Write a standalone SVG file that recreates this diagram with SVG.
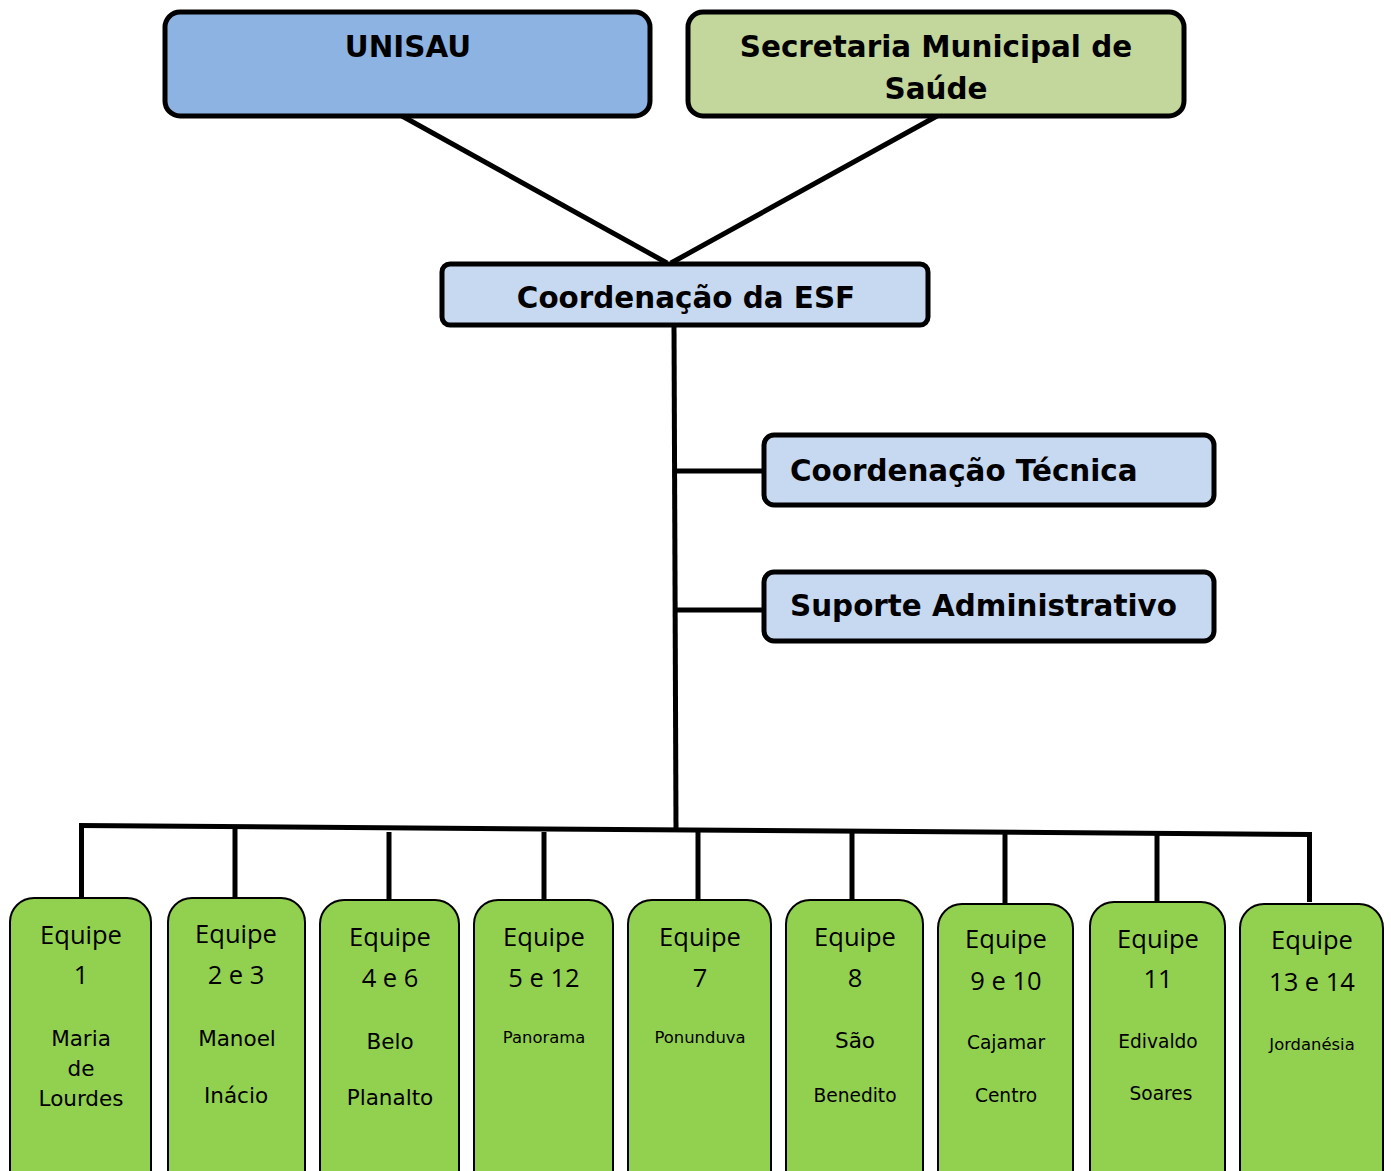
<svg xmlns="http://www.w3.org/2000/svg" width="1391" height="1171" viewBox="0 0 1391 1171">
<style>
.top{stroke:#000;stroke-width:5;}
.team{fill:#92D050;stroke:#000;stroke-width:2;}
.b{font-family:"DejaVu Sans","Verdana",sans-serif;font-weight:bold;font-size:29.4px;fill:#000;}
.eq{font-family:"Open Sans","Liberation Sans",sans-serif;font-size:25.5px;fill:#000;text-anchor:middle;}
.nm{font-family:"DejaVu Sans","Verdana",sans-serif;fill:#000;text-anchor:middle;}
.n21{font-size:21.5px;}
.n18{font-size:18.6px;}
.n16{font-size:16.4px;}
.conn{stroke:#000;stroke-width:5;fill:none;stroke-linecap:butt;}
</style>
<rect width="1391" height="1171" fill="#fff"/>
<g id="connectors">
<line class="conn" x1="402" y1="116" x2="667" y2="263"/>
<line class="conn" x1="937" y1="116" x2="671" y2="263"/>
<line class="conn" x1="674" y1="325" x2="676" y2="829"/>
<line class="conn" x1="675" y1="471" x2="764" y2="471"/>
<line class="conn" x1="675" y1="610" x2="764" y2="610"/>
<line class="conn" x1="79" y1="825.5" x2="1312" y2="834.5"/>
<line class="conn" x1="81.5" y1="824" x2="81.5" y2="898"/>
<line class="conn" x1="235" y1="826" x2="235" y2="898"/>
<line class="conn" x1="389" y1="832" x2="389" y2="900"/>
<line class="conn" x1="544" y1="832" x2="544" y2="900"/>
<line class="conn" x1="698" y1="830" x2="698" y2="899"/>
<line class="conn" x1="852" y1="832" x2="852" y2="899"/>
<line class="conn" x1="1005" y1="833" x2="1005" y2="903"/>
<line class="conn" x1="1157" y1="834" x2="1157" y2="902"/>
<line class="conn" x1="1309.5" y1="832" x2="1309.5" y2="902"/>
</g>
<g id="unisau">
<rect class="top" x="165" y="12" width="485" height="104" rx="15" fill="#8DB3E2"/>
<text class="b" x="408" y="57" text-anchor="middle">UNISAU</text>
</g>
<g id="secretaria">
<rect class="top" x="688" y="12" width="496" height="104" rx="15" fill="#C3D69B"/>
<text class="b" x="936" y="57" text-anchor="middle">Secretaria Municipal de</text>
<text class="b" x="936" y="99" text-anchor="middle">Saúde</text>
</g>
<g id="coord-esf">
<rect class="top" x="442" y="264" width="486" height="61" rx="8" fill="#C6D9F0"/>
<text class="b" x="686" y="308" text-anchor="middle">Coordenação da ESF</text>
</g>
<g id="coord-tecnica">
<rect class="top" x="764" y="435" width="450" height="70" rx="10" fill="#C6D9F0"/>
<text class="b" x="790" y="481">Coordenação Técnica</text>
</g>
<g id="suporte-adm">
<rect class="top" x="764" y="572" width="450" height="69" rx="10" fill="#C6D9F0"/>
<text class="b" x="790" y="616">Suporte Administrativo</text>
</g>
<g id="equipe1">
<rect class="team" x="10" y="898" width="141" height="300" rx="24"/>
<text class="eq" x="81" y="944">Equipe</text>
<text class="eq" x="81" y="984">1</text>
<text class="nm n21" x="81" y="1046">Maria</text>
<text class="nm n21" x="81" y="1076">de</text>
<text class="nm n21" x="81" y="1106">Lourdes</text>
</g>
<g id="equipe2e3">
<rect class="team" x="168" y="898" width="137" height="300" rx="24"/>
<text class="eq" x="236" y="943">Equipe</text>
<text class="eq" x="236" y="984">2 e 3</text>
<text class="nm n21" x="237" y="1046">Manoel</text>
<text class="nm n21" x="236" y="1103">Inácio</text>
</g>
<g id="equipe4e6">
<rect class="team" x="320" y="900" width="139" height="300" rx="24"/>
<text class="eq" x="390" y="946">Equipe</text>
<text class="eq" x="390" y="987">4 e 6</text>
<text class="nm n21" x="390" y="1049">Belo</text>
<text class="nm n21" x="390" y="1105">Planalto</text>
</g>
<g id="equipe5e12">
<rect class="team" x="474" y="900" width="139" height="300" rx="24"/>
<text class="eq" x="544" y="946">Equipe</text>
<text class="eq" x="544" y="987">5 e 12</text>
<text class="nm n16" x="544" y="1043">Panorama</text>
</g>
<g id="equipe7">
<rect class="team" x="628" y="900" width="143" height="300" rx="24"/>
<text class="eq" x="700" y="946">Equipe</text>
<text class="eq" x="700" y="987">7</text>
<text class="nm n16" x="700" y="1043">Ponunduva</text>
</g>
<g id="equipe8">
<rect class="team" x="786" y="900" width="137" height="300" rx="24"/>
<text class="eq" x="855" y="946">Equipe</text>
<text class="eq" x="855" y="987">8</text>
<text class="nm n21" x="855" y="1048">São</text>
<text class="nm n18" x="855" y="1102">Benedito</text>
</g>
<g id="equipe9e10">
<rect class="team" x="938" y="904" width="135" height="300" rx="24"/>
<text class="eq" x="1006" y="948">Equipe</text>
<text class="eq" x="1006" y="990">9 e 10</text>
<text class="nm n18" x="1006" y="1049">Cajamar</text>
<text class="nm n18" x="1006" y="1102">Centro</text>
</g>
<g id="equipe11">
<rect class="team" x="1090" y="902" width="135" height="300" rx="24"/>
<text class="eq" x="1158" y="948">Equipe</text>
<text class="eq" x="1158" y="988">11</text>
<text class="nm n18" x="1158" y="1048">Edivaldo</text>
<text class="nm n18" x="1161" y="1100">Soares</text>
</g>
<g id="equipe13e14">
<rect class="team" x="1240" y="904" width="143" height="300" rx="24"/>
<text class="eq" x="1312" y="949">Equipe</text>
<text class="eq" x="1312" y="991">13 e 14</text>
<text class="nm n16" x="1312" y="1050">Jordanésia</text>
</g>
</svg>
